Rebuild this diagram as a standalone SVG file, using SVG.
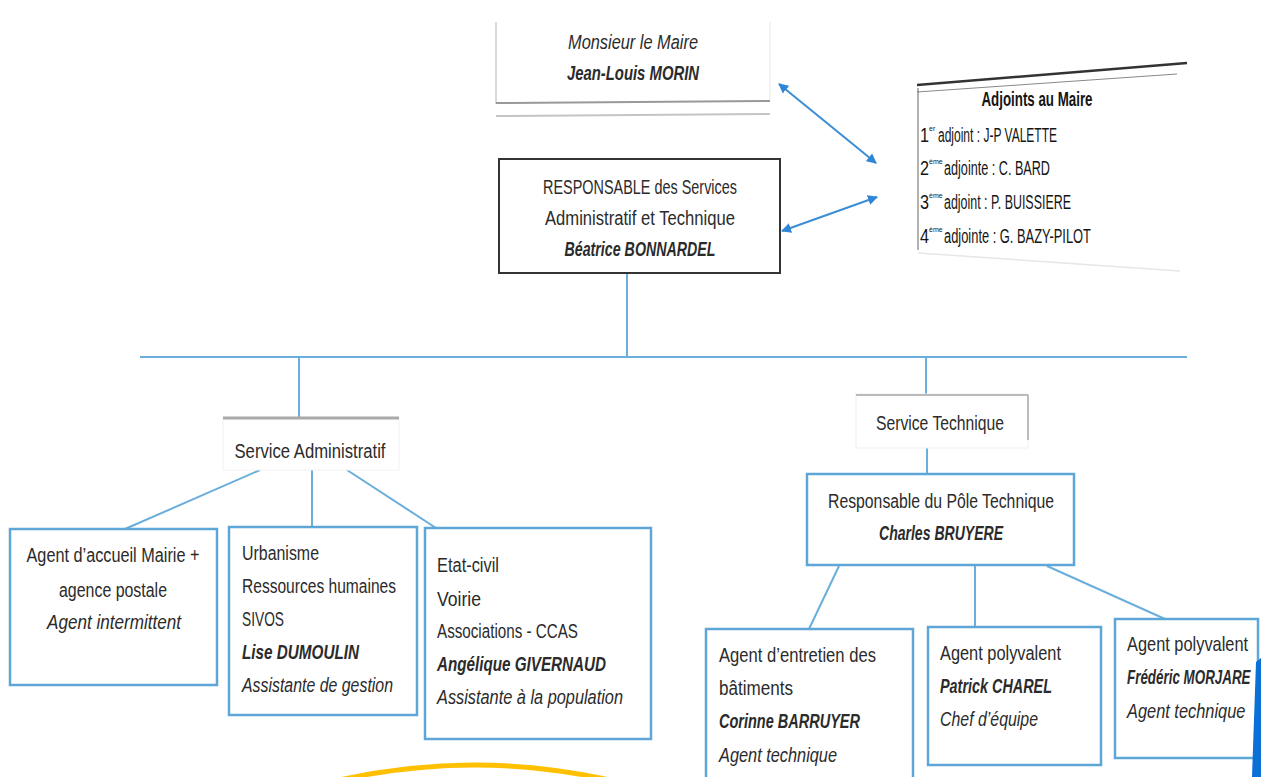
<svg xmlns="http://www.w3.org/2000/svg" width="1261" height="777" viewBox="0 0 1261 777">
<style>
text{font-family:"Liberation Sans",Arial,sans-serif;font-size:20px;fill:#2b2b2b}
.c{text-anchor:middle}
.i{font-style:italic}
.b{font-weight:bold}
.bi{font-weight:bold;font-style:italic}
.adj{fill:#151515}
.sup{font-size:7px;fill:#151515}
.bx{fill:#fff;stroke:#5ea6d8;stroke-width:2.5}
.conn{stroke:#6aaedb;stroke-width:2;fill:none}
.arr{stroke:#3a8ed6;stroke-width:2;fill:none;marker-start:url(#ah);marker-end:url(#ah)}
</style>
<defs>
<marker id="ah" viewBox="0 0 10 10" refX="9" refY="5" markerWidth="5" markerHeight="5" orient="auto-start-reverse">
<path d="M0,0 L10,5 L0,10 z" fill="#2f86d6"/>
</marker>
</defs>
<rect width="1261" height="777" fill="#fff"/>

<g id="connectors">
<line class="arr" x1="779" y1="84" x2="876" y2="163"/>
<line class="arr" x1="782" y1="231" x2="877" y2="197"/>
<line class="conn" x1="627" y1="274" x2="627" y2="357"/>
<line class="conn" x1="140" y1="357" x2="1187" y2="357"/>
<line class="conn" x1="299" y1="357" x2="299" y2="418"/>
<line class="conn" x1="926" y1="357" x2="926" y2="394"/>
<line class="conn" x1="260" y1="470" x2="125" y2="529"/>
<line class="conn" x1="312" y1="470" x2="312" y2="527"/>
<line class="conn" x1="347" y1="470" x2="436" y2="528"/>
<line class="conn" x1="927" y1="448" x2="927" y2="474"/>
<line class="conn" x1="839" y1="566" x2="809" y2="629"/>
<line class="conn" x1="975" y1="566" x2="975" y2="627"/>
<line class="conn" x1="1047" y1="566" x2="1165" y2="619"/>
</g>

<g id="maire">
<line x1="496" y1="22" x2="496" y2="104" stroke="#ccc" stroke-width="1.5"/>
<line x1="770" y1="22" x2="770" y2="100" stroke="#f0f0f0" stroke-width="1.5"/>
<line x1="496" y1="103" x2="770" y2="101" stroke="#999" stroke-width="2"/>
<line x1="496" y1="116" x2="770" y2="114" stroke="#c4c4c4" stroke-width="2"/>
<text class="c i" x="633" y="49" textLength="130" lengthAdjust="spacingAndGlyphs">Monsieur le Maire</text>
<text class="c bi" x="633" y="80" textLength="132" lengthAdjust="spacingAndGlyphs">Jean-Louis MORIN</text>
</g>

<g id="responsable">
<rect x="499" y="159" width="281" height="114" fill="#fff" stroke="#333" stroke-width="2"/>
<text class="c" x="640" y="194" textLength="194" lengthAdjust="spacingAndGlyphs">RESPONSABLE des Services</text>
<text class="c" x="640" y="225" textLength="190" lengthAdjust="spacingAndGlyphs">Administratif et Technique</text>
<text class="c bi" x="640" y="256" textLength="151" lengthAdjust="spacingAndGlyphs">Béatrice BONNARDEL</text>
</g>

<g id="adjoints">
<polygon points="917,84 1187,62 1180,270 917,252" fill="#fff"/>
<line x1="917" y1="85" x2="1187" y2="63" stroke="#333" stroke-width="2.5"/>
<line x1="917" y1="92" x2="1177" y2="74" stroke="#888" stroke-width="1"/>
<line x1="918" y1="88" x2="918" y2="250" stroke="#666" stroke-width="1"/>
<line x1="918" y1="253" x2="1180" y2="271" stroke="#e6e6e6" stroke-width="1.5"/>
<text class="c b adj" x="1037" y="106" textLength="111" lengthAdjust="spacingAndGlyphs">Adjoints au Maire</text>
<text class="adj" x="920" y="142" textLength="9" lengthAdjust="spacingAndGlyphs">1</text>
<text class="sup" x="929" y="131">er</text>
<text class="adj" x="938" y="142" textLength="119" lengthAdjust="spacingAndGlyphs">adjoint : J-P VALETTE</text>
<text class="adj" x="920" y="175" textLength="9" lengthAdjust="spacingAndGlyphs">2</text>
<text class="sup" x="929" y="164">ème</text>
<text class="adj" x="944" y="175" textLength="106" lengthAdjust="spacingAndGlyphs">adjointe : C. BARD</text>
<text class="adj" x="920" y="209" textLength="9" lengthAdjust="spacingAndGlyphs">3</text>
<text class="sup" x="929" y="198">ème</text>
<text class="adj" x="944" y="209" textLength="127" lengthAdjust="spacingAndGlyphs">adjoint : P. BUISSIERE</text>
<text class="adj" x="920" y="243" textLength="9" lengthAdjust="spacingAndGlyphs">4</text>
<text class="sup" x="929" y="232">ème</text>
<text class="adj" x="944" y="243" textLength="147" lengthAdjust="spacingAndGlyphs">adjointe : G. BAZY-PILOT</text>
</g>

<g id="service-admin">
<rect x="223" y="418" width="176" height="52" fill="#fff" stroke="#f2f2f2" stroke-width="1"/>
<line x1="223" y1="418" x2="399" y2="418" stroke="#aaa" stroke-width="3"/>
<text class="c" x="310" y="458" textLength="151" lengthAdjust="spacingAndGlyphs">Service Administratif</text>
</g>

<g id="service-tech">
<rect x="856" y="394" width="172" height="54" fill="#fff" stroke="#f0f0f0" stroke-width="1"/>
<line x1="856" y1="395" x2="1028" y2="395" stroke="#bbb" stroke-width="2"/>
<line x1="1028" y1="395" x2="1028" y2="440" stroke="#bbb" stroke-width="2"/>
<text class="c" x="940" y="430" textLength="128" lengthAdjust="spacingAndGlyphs">Service Technique</text>
</g>

<g id="agent-accueil">
<rect class="bx" x="10" y="529" width="207" height="156"/>
<text class="c" x="113" y="562" textLength="173" lengthAdjust="spacingAndGlyphs">Agent d’accueil Mairie +</text>
<text class="c" x="113" y="597" textLength="108" lengthAdjust="spacingAndGlyphs">agence postale</text>
<text class="c i" x="114" y="629" textLength="134" lengthAdjust="spacingAndGlyphs">Agent intermittent</text>
</g>

<g id="urbanisme">
<rect class="bx" x="229" y="527" width="188" height="188"/>
<text x="242" y="560" textLength="77" lengthAdjust="spacingAndGlyphs">Urbanisme</text>
<text x="242" y="593" textLength="154" lengthAdjust="spacingAndGlyphs">Ressources humaines</text>
<text x="242" y="626" textLength="42" lengthAdjust="spacingAndGlyphs">SIVOS</text>
<text class="bi" x="242" y="659" textLength="117" lengthAdjust="spacingAndGlyphs">Lise DUMOULIN</text>
<text class="i" x="242" y="692" textLength="151" lengthAdjust="spacingAndGlyphs">Assistante de gestion</text>
</g>

<g id="etat-civil">
<rect class="bx" x="425" y="528" width="226" height="211"/>
<text x="437" y="572" textLength="62" lengthAdjust="spacingAndGlyphs">Etat-civil</text>
<text x="437" y="606" textLength="44" lengthAdjust="spacingAndGlyphs">Voirie</text>
<text x="437" y="638" textLength="141" lengthAdjust="spacingAndGlyphs">Associations - CCAS</text>
<text class="bi" x="437" y="671" textLength="169" lengthAdjust="spacingAndGlyphs">Angélique GIVERNAUD</text>
<text class="i" x="437" y="704" textLength="186" lengthAdjust="spacingAndGlyphs">Assistante à la population</text>
</g>

<g id="pole-technique">
<rect class="bx" x="807" y="474" width="267" height="91"/>
<text class="c" x="941" y="508" textLength="226" lengthAdjust="spacingAndGlyphs">Responsable du Pôle Technique</text>
<text class="c bi" x="941" y="540" textLength="124" lengthAdjust="spacingAndGlyphs">Charles BRUYERE</text>
</g>

<g id="agent-entretien">
<rect class="bx" x="706" y="629" width="207" height="160"/>
<text x="719" y="662" textLength="157" lengthAdjust="spacingAndGlyphs">Agent d’entretien des</text>
<text x="719" y="695" textLength="74" lengthAdjust="spacingAndGlyphs">bâtiments</text>
<text class="bi" x="719" y="728" textLength="141" lengthAdjust="spacingAndGlyphs">Corinne BARRUYER</text>
<text class="i" x="719" y="762" textLength="118" lengthAdjust="spacingAndGlyphs">Agent technique</text>
</g>

<g id="agent-charel">
<rect class="bx" x="928" y="627" width="173" height="138"/>
<text x="940" y="660" textLength="121" lengthAdjust="spacingAndGlyphs">Agent polyvalent</text>
<text class="bi" x="940" y="693" textLength="112" lengthAdjust="spacingAndGlyphs">Patrick CHAREL</text>
<text class="i" x="940" y="726" textLength="98" lengthAdjust="spacingAndGlyphs">Chef d’équipe</text>
</g>

<g id="agent-morjare">
<rect class="bx" x="1115" y="619" width="143" height="139"/>
<text transform="translate(1127,651) scale(0.82,1)">Agent polyvalent</text>
<text class="bi" transform="translate(1127,684) scale(0.67,1)">Frédéric MORJARE</text>
<text class="i" transform="translate(1127,718) scale(0.82,1)">Agent technique</text>
</g>

<polygon points="1256,662 1261,658 1261,777 1252,777" fill="#0b6fd8"/>
<path d="M335,781 Q470,750 605,779" fill="none" stroke="#ffc000" stroke-width="5"/>
</svg>
